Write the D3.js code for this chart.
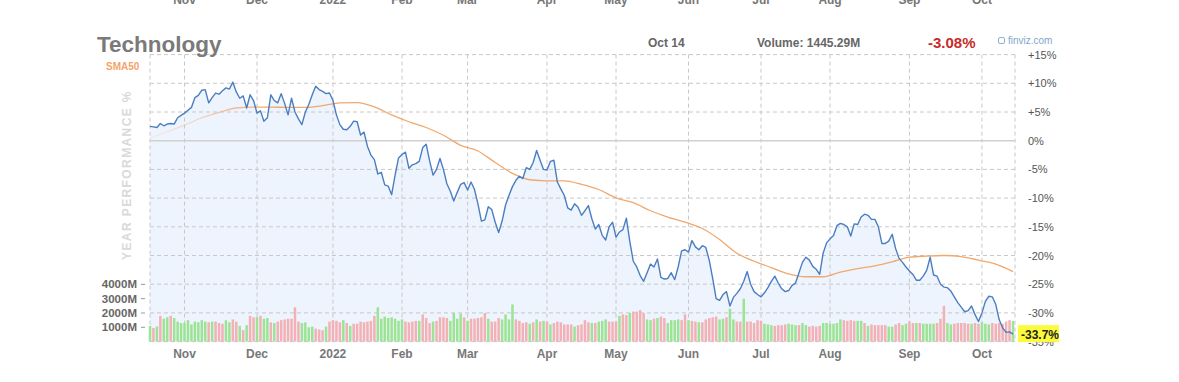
<!DOCTYPE html>
<html><head><meta charset="utf-8">
<script src="https://cdn.jsdelivr.net/npm/d3@7"></script>
<style>
body{margin:0;background:#fff}
svg{display:block}
text{font-family:"Liberation Sans",Arial,Helvetica,sans-serif}
</style>
</head><body>
<svg id="chart" width="1179" height="382"></svg>
<script>
// ---------------- DATA ----------------
const title = "Technology";
const headerDate = "Oct 14";
const headerVolume = "Volume: 1445.29M";
const headerChange = "-3.08%";
const lastLabel = "-33.7%";
const startDate = "2021-10-18";
const endDate = "2022-10-14";
const holidays = ["2021-11-25","2021-12-24","2022-01-17","2022-02-21","2022-04-15","2022-05-30","2022-06-20","2022-07-04","2022-09-05"];
const monthLabels = ["Nov","Dec","2022","Feb","Mar","Apr","May","Jun","Jul","Aug","Sep","Oct"];
const pctTicks = [15,10,5,0,-5,-10,-15,-20,-25,-30,-35];
const volTicks = [1000,2000,3000,4000];

// year performance % (one value per trading session)
const perf = [
 2.5,2.4,2.3,3.0,2.6,2.9,3.0,2.9,4.0,4.4,
 4.8,5.3,5.8,7.5,7.9,8.8,8.9,6.6,7.5,8.3,
 8.1,8.7,9.2,9.0,10.2,8.5,7.4,7.8,5.7,8.0,
 7.0,4.8,5.2,3.4,4.0,8.0,7.0,6.6,8.2,6.5,
 4.5,7.4,5.0,3.8,2.8,5.0,6.3,8.0,9.5,8.9,
 8.6,8.2,8.3,7.0,4.5,2.8,2.0,1.9,2.5,3.4,
 3.3,1.0,1.5,-1.0,-2.5,-3.3,-5.8,-5.5,-7.7,-7.9,
 -9.4,-6.0,-3.0,-2.4,-2.0,-4.8,-4.2,-4.0,-3.6,-1.2,
 -0.6,-3.5,-6.0,-5.0,-3.1,-5.0,-7.5,-8.8,-10.5,-9.0,
 -7.6,-7.3,-8.6,-7.2,-8.5,-11.0,-14.0,-13.8,-11.5,-12.0,
 -14.2,-16.0,-14.0,-11.2,-9.5,-8.0,-6.9,-6.2,-6.6,-4.7,
 -5.0,-3.8,-1.7,-3.4,-5.0,-5.1,-3.6,-3.4,-7.2,-8.4,
 -9.5,-11.7,-12.1,-11.0,-11.6,-13.0,-12.2,-11.3,-13.6,-15.4,
 -14.6,-16.5,-17.3,-15.0,-14.2,-16.8,-15.9,-15.5,-13.5,-17.6,
 -21.0,-22.0,-23.5,-24.5,-23.0,-21.5,-22.0,-20.6,-23.8,-24.1,
 -24.0,-23.0,-24.2,-22.0,-19.2,-19.0,-19.4,-17.4,-18.5,-19.0,
 -18.3,-18.6,-20.8,-24.0,-27.5,-27.8,-26.8,-26.3,-28.8,-27.3,
 -26.6,-25.8,-24.5,-22.8,-25.0,-26.3,-26.8,-27.2,-26.5,-25.6,
 -24.5,-23.6,-24.8,-25.8,-26.3,-26.1,-25.2,-24.8,-23.0,-21.2,
 -20.3,-20.8,-21.9,-22.4,-23.3,-19.6,-17.8,-17.1,-16.5,-14.8,
 -14.4,-14.6,-15.0,-16.6,-14.5,-14.6,-13.3,-12.8,-13.0,-13.7,
 -13.7,-15.0,-17.9,-17.9,-17.5,-16.3,-18.8,-20.5,-21.2,-22.0,
 -22.7,-23.3,-24.3,-24.3,-23.6,-22.6,-20.3,-23.4,-23.6,-25.0,
 -25.5,-25.6,-26.2,-27.2,-28.2,-29.0,-29.8,-29.6,-28.8,-30.3,
 -31.5,-30.0,-28.0,-27.1,-27.2,-28.5,-31.2,-32.6,-33.4,-33.3,
 -33.7
];

// SMA50 sampled every 5th session
const smaStep = 5;
const sma50 = [
 0.45,1.6,2.7,4.0,4.95,5.7,5.85,5.85,5.8,5.8,
 6.1,6.6,6.65,5.9,4.5,3.3,2.3,0.95,-0.8,-1.8,
 -3.8,-5.7,-6.8,-7.0,-7.0,-7.6,-8.5,-9.95,-10.8,-12.2,
 -13.3,-14.2,-15.3,-17.2,-19.6,-21.0,-22.1,-23.2,-23.7,-23.7,
 -22.9,-22.3,-21.8,-21.1,-20.3,-20.1,-20.0,-20.2,-20.8,-21.5,
 -22.8
];

// volume in millions, one per session
const volume = [
 1100,950,1050,1800,1600,1700,1800,1650,1400,1300,
 1300,1500,1200,1400,1350,1500,1400,1350,1400,1400,
 1300,1250,1500,1350,1550,1400,1100,800,1150,1800,
 1700,1700,1800,1600,1650,1350,1300,1400,1500,1550,
 1600,1600,2400,1400,1300,1350,1000,1050,900,850,
 800,1050,1400,1500,1450,1350,1500,1300,1100,1250,
 1250,1400,1350,1400,1450,1800,2400,1600,1750,1650,
 1700,1600,1450,1550,1400,1350,1400,1450,1450,1900,
 1650,1300,1400,1450,1700,1700,1650,1450,2000,1600,
 1950,1700,1450,1600,1600,1650,1700,2000,1600,1400,
 1400,1650,1550,1900,1550,2600,1550,1450,1300,1350,
 1250,1350,1550,1400,1450,1400,1200,1300,1400,1350,
 1200,1200,1200,1050,1150,1200,
 1500,1350,1300,1300,1400,1450,1550,1400,1400,1400,
 1800,1900,1850,2000,2100,2100,2200,2000,1550,1500,
 1600,1650,1750,1650,1300,1500,1500,1550,1500,1900,
 1500,1450,1400,1350,1350,1550,1650,1700,1750,1550,
 1600,1700,2300,1550,1400,1400,3000,1400,1400,1300,
 1500,1450,1250,1200,1150,1100,1150,1150,1200,1250,
 1200,1150,1150,1300,1150,1050,1100,1050,1100,1300,
 1300,1250,1250,1300,1550,1500,1450,1500,1450,1450,
 1450,1300,1100,1200,1150,1150,1150,1150,1050,1050,
 1200,1300,1150,1250,1400,1300,1300,1300,1250,1250,
 1250,1250,1300,1600,2500,1300,1200,1250,1300,1300,
 1300,1250,1250,1300,1250,1350,1250,1200,1300,1250,
 1300,1250,1400,1500,1445
];
// session direction for volume bar colour: G = up, R = down
const volDir =
 "GRGRGGRGGG" + "GGGGGGGRGR" + "RRGGRRGRGR" + "RGRGGRGRRR" + "RRRRGGGGRR" +
 "RGRRRRGRGR" + "RRRRRRGGGG" + "GGGGRRRRGR" + "RRGRRRRGGG" + "GRGRRRRRGR" +
 "RRGGGGRRRR" + "GRGRGRGRRR" + "RRRGRR" +
 "RRGRGGGRRR" + "GRRGRRRRGG" + "RGRRGGGGRR" + "GRRGRRRRRG" + "GRGGRRGRRR" +
 "RRGGGRRRRG" + "GGRGGRRRRG" + "GGGGGRRRRG" + "GRGRRRRRGG" + "RRGGRRGRGG" +
 "GGRRRGGRRR" + "RRGRRGGGRR" + "RRRRGR";

// ---------------- CHART ----------------
const svg = d3.select("#chart");
const L = 150, R = 1013, RB = 1015, T = 54.6, B = 341.6;

const fmt = d3.utcFormat("%Y-%m-%d");
const hol = new Set(holidays);
const days = d3.utcDay.range(new Date(startDate + "T00:00:00Z"), d3.utcDay.offset(new Date(endDate + "T00:00:00Z"), 1))
  .filter(d => d.getUTCDay() !== 0 && d.getUTCDay() !== 6 && !hol.has(fmt(d)));

const x = d3.scalePoint().domain(d3.range(days.length)).range([L, R]);
const y = d3.scaleLinear().domain([-35, 15]).range([B, T]);
const yv = d3.scaleLinear().domain([0, 4000]).range([B, B - 57.2]);

// month tick positions: first session of each month
const monthIdx = [];
days.forEach((d, i) => { if (i > 0 && d.getUTCMonth() !== days[i - 1].getUTCMonth()) monthIdx.push(i); });

const defs = svg.append("defs");
const g1 = defs.append("linearGradient").attr("id", "smaGrad")
  .attr("gradientUnits", "userSpaceOnUse").attr("x1", L).attr("x2", 265).attr("y1", 0).attr("y2", 0);
g1.append("stop").attr("offset", 0).attr("stop-color", "#f2b48a").attr("stop-opacity", 0.12);
g1.append("stop").attr("offset", 1).attr("stop-color", "#f0a86e").attr("stop-opacity", 1);

// area fill
const idx = d3.range(perf.length);
svg.append("path")
  .attr("d", d3.area().x(i => x(i)).y0(B).y1(i => y(perf[i]))(idx))
  .attr("fill", "#edf4fd");

// horizontal grid
const gridColor = "#c8c8c8";
svg.append("g").selectAll("line").data(pctTicks.filter(v => v !== 0)).join("line")
  .attr("x1", L).attr("x2", RB).attr("y1", v => y(v)).attr("y2", v => y(v))
  .attr("stroke", gridColor).attr("stroke-width", 1).attr("stroke-dasharray", "4,3");

// vertical grid (months + borders)
const vx = monthIdx.map(i => x(i)).concat([L, RB]);
svg.append("g").selectAll("line").data(vx).join("line")
  .attr("x1", d => d).attr("x2", d => d).attr("y1", T).attr("y2", B)
  .attr("stroke", gridColor).attr("stroke-width", 1).attr("stroke-dasharray", "4,3");

// volume bars
svg.append("g").selectAll("rect").data(volume).join("rect")
  .attr("x", (v, i) => x(i) - 1.25).attr("width", 2.5)
  .attr("y", v => yv(v)).attr("height", v => B - yv(v))
  .attr("fill", (v, i) => volDir[i] === "G" ? "#9ce394" : "#f3b1b6");

// zero line
svg.append("line").attr("x1", L).attr("x2", RB).attr("y1", y(0)).attr("y2", y(0))
  .attr("stroke", "#d0d0d0").attr("stroke-width", 1.6);

// SMA50
svg.append("path")
  .attr("d", d3.line().x((v, i) => x(i * smaStep)).y(v => y(v)).curve(d3.curveMonotoneX)(sma50))
  .attr("fill", "none").attr("stroke", "url(#smaGrad)").attr("stroke-width", 1.3);

// performance line
svg.append("path")
  .attr("d", d3.line().x(i => x(i)).y(i => y(perf[i]))(idx))
  .attr("fill", "none").attr("stroke", "#4b7ec0").attr("stroke-width", 1.4).attr("stroke-linejoin", "round");

// right axis labels
svg.append("g").selectAll("text").data(pctTicks).join("text")
  .attr("x", 1028).attr("y", v => y(v) + 4)
  .attr("font-size", 11).attr("fill", "#555")
  .text(v => (v > 0 ? "+" : "") + v + "%");

// volume axis
const va = svg.append("g");
va.selectAll("text").data(volTicks).join("text")
  .attr("x", 137).attr("y", v => yv(v) + 4).attr("text-anchor", "end")
  .attr("font-size", 11.5).attr("font-weight", "bold").attr("fill", "#666")
  .text(v => v + "M");
va.selectAll("line").data(volTicks).join("line")
  .attr("x1", 141).attr("x2", 145).attr("y1", v => yv(v)).attr("y2", v => yv(v))
  .attr("stroke", "#999");

// month labels bottom and (clipped) top
[358, 4].forEach(yy => {
  svg.append("g").selectAll("text").data(monthIdx).join("text")
    .attr("x", i => x(i)).attr("y", yy).attr("text-anchor", "middle")
    .attr("font-size", 12).attr("font-weight", "bold").attr("fill", "#777")
    .text((i, k) => monthLabels[k]);
});

// last value label
const ly = y(perf[perf.length - 1]);
svg.append("rect").attr("x", 1018).attr("y", ly - 9).attr("width", 41).attr("height", 17).attr("fill", "#fbfb3c");
svg.append("text").attr("x", 1021).attr("y", ly + 4.5).attr("font-size", 12).attr("font-weight", "bold")
  .attr("fill", "#222").text(lastLabel);

// titles
svg.append("text").attr("x", 97).attr("y", 52).attr("font-size", 22.5).attr("font-weight", "bold")
  .attr("fill", "#7a7a7a").text(title);
svg.append("text").attr("x", 106).attr("y", 69.5).attr("font-size", 10).attr("font-weight", "bold")
  .attr("fill", "#f4a46a").text("SMA50");
svg.append("text").attr("x", 648).attr("y", 46.5).attr("font-size", 12).attr("font-weight", "bold")
  .attr("fill", "#666").text(headerDate);
svg.append("text").attr("x", 757).attr("y", 46.5).attr("font-size", 12).attr("font-weight", "bold")
  .attr("fill", "#666").text(headerVolume);
svg.append("text").attr("x", 928).attr("y", 47.5).attr("font-size", 15).attr("font-weight", "bold")
  .attr("fill", "#c62c2c").text(headerChange);
svg.append("rect").attr("x", 998.5).attr("y", 37.5).attr("width", 6).attr("height", 6).attr("rx", 1.5)
  .attr("fill", "none").attr("stroke", "#8fb0d0").attr("stroke-width", 1);
svg.append("text").attr("x", 1008).attr("y", 44).attr("font-size", 10)
  .attr("fill", "#7fa6cc").text("finviz.com");

// vertical axis title
svg.append("text").attr("transform", "translate(131,175) rotate(-90)")
  .attr("text-anchor", "middle").attr("font-size", 12).attr("font-weight", "bold")
  .attr("letter-spacing", 1.4).attr("fill", "#d9d9d9").text("YEAR PERFORMANCE %");
</script>
</body></html>
